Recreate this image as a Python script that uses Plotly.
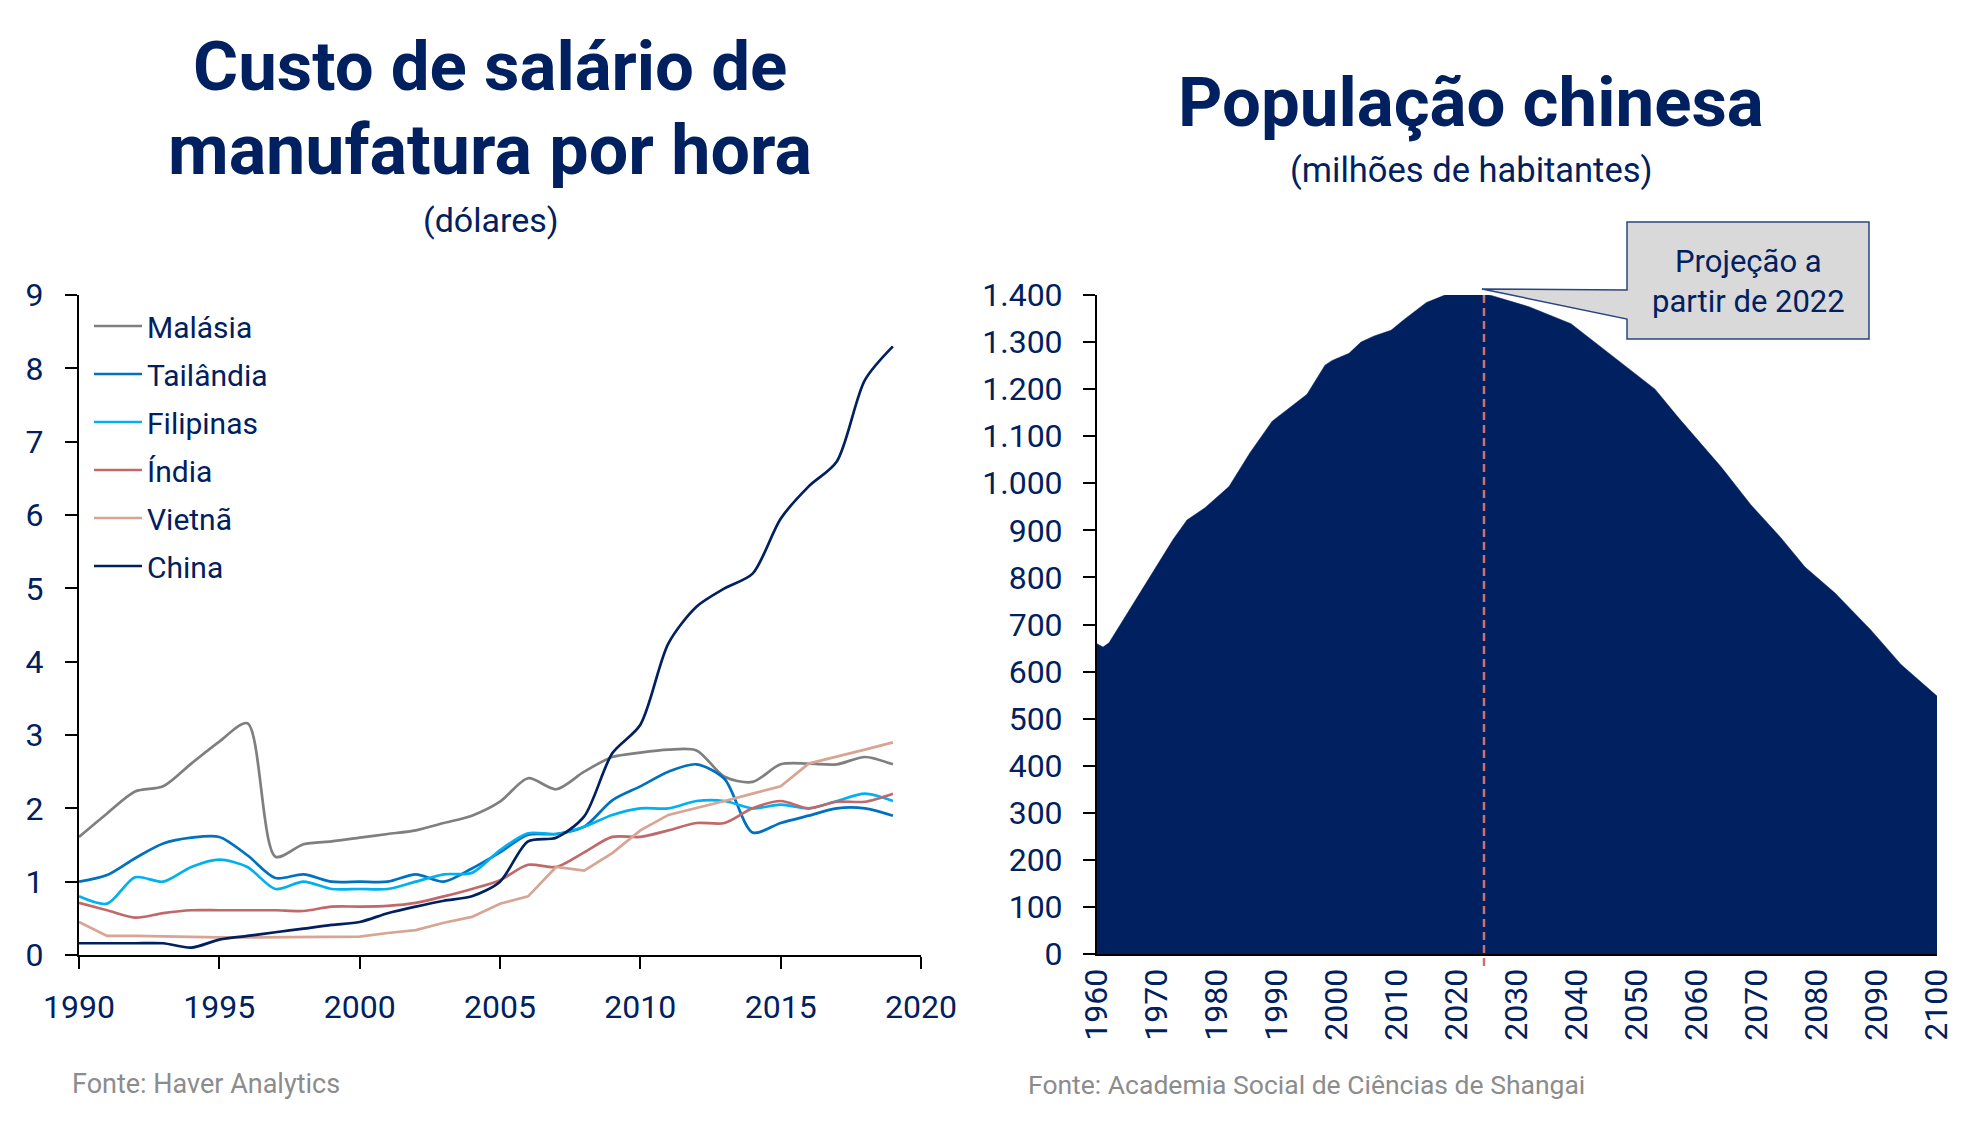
import plotly.graph_objects as go

# ---------------- data ----------------
wage_years = list(range(1990, 2020))
malasia = [1.61, 1.93, 2.23, 2.30, 2.61, 2.91, 3.16, 1.34, 1.51, 1.55,
           1.60, 1.65, 1.70, 1.80, 1.90, 2.09, 2.41, 2.26, 2.50, 2.70,
           2.76, 2.80, 2.79, 2.43, 2.36, 2.60, 2.61, 2.60, 2.70, 2.60]
tailandia = [1.00, 1.09, 1.32, 1.52, 1.60, 1.61, 1.36, 1.05, 1.10, 1.00,
             1.00, 1.00, 1.10, 1.00, 1.18, 1.40, 1.64, 1.65, 1.75, 2.11,
             2.30, 2.50, 2.60, 2.40, 1.67, 1.80, 1.90, 2.00, 2.00, 1.90]
filipinas = [0.80, 0.70, 1.06, 1.00, 1.20, 1.30, 1.20, 0.90, 1.00, 0.90,
             0.90, 0.90, 1.00, 1.10, 1.12, 1.43, 1.66, 1.65, 1.75, 1.91,
             2.00, 2.00, 2.10, 2.10, 2.00, 2.05, 2.00, 2.10, 2.20, 2.10]
india = [0.71, 0.61, 0.51, 0.57, 0.61, 0.61, 0.61, 0.61, 0.60, 0.66,
         0.66, 0.67, 0.71, 0.80, 0.90, 1.02, 1.23, 1.20, 1.40, 1.61,
         1.61, 1.70, 1.80, 1.80, 2.00, 2.10, 2.00, 2.09, 2.09, 2.20]
vietna = [0.45, 0.26, 0.26, 0.25, 0.24, 0.24, 0.24, 0.24, 0.24, 0.24,
          0.25, 0.30, 0.34, 0.44, 0.52, 0.70, 0.80, 1.20, 1.15, 1.39,
          1.70, 1.91, 2.00, 2.10, 2.20, 2.30, 2.61, 2.70, 2.80, 2.90]
china = [0.16, 0.16, 0.16, 0.16, 0.10, 0.21, 0.26, 0.31, 0.36, 0.41,
         0.45, 0.57, 0.66, 0.74, 0.80, 1.00, 1.55, 1.60, 1.89, 2.75,
         3.14, 4.25, 4.75, 5.00, 5.20, 5.95, 6.39, 6.73, 7.84, 8.30]

wage_series = [
    ("Malásia", malasia, "#7f7f7f", "spline"),
    ("Tailândia", tailandia, "#0070c0", "spline"),
    ("Filipinas", filipinas, "#00b0f0", "spline"),
    ("Índia", india, "#c0686a", "spline"),
    ("Vietnã", vietna, "#d8a493", "linear"),
    ("China", china, "#002060", "spline"),
]
wage_xticks = [1990, 1995, 2000, 2005, 2010, 2015, 2020]
wage_yticks = list(range(0, 10))

pop_years = [1960, 1961, 1962, 1966, 1970, 1972.7, 1975, 1978, 1982, 1985.5,
             1989.2, 1992, 1995, 1998, 1999.2, 2002, 2004, 2006.2, 2009, 2011.2,
             2014.9, 2018, 2020, 2022, 2024, 2026, 2032, 2039, 2043, 2048,
             2053, 2057, 2064, 2069, 2074, 2078, 2083, 2089, 2094, 2100]
pop_values = [659, 652, 661, 743, 825, 881, 922, 948, 993, 1065,
              1132, 1160, 1189, 1251, 1261, 1276, 1300, 1313, 1325, 1348,
              1384, 1400, 1408, 1412, 1404, 1398, 1375, 1339, 1299, 1250,
              1200, 1138, 1035, 954, 884, 822, 767, 688, 615, 548]
pop_xticks = list(range(1960, 2101, 10))
pop_yticks = list(range(0, 1401, 100))
pop_yticktext = [f"{v:,}".replace(",", ".") for v in pop_yticks]
projection_year = 2024.5

# ---------------- layout helpers ----------------
W, H = 1972, 1125
OFF = 8  # page body margin
NAVY = "#002060"
FONT = "Roboto"


def px(x):
    return (x - OFF) / W


def py(y):
    return 1 - (y - OFF) / H


fig = go.Figure()

for i, (name, vals, color, shape) in enumerate(wage_series):
    fig.add_trace(go.Scatter(
        x=wage_years, y=vals, name=name, mode="lines",
        line=dict(color=color, width=2.7, shape=shape, smoothing=0.8),
        legendgroup=f"g{i}", xaxis="x", yaxis="y",
    ))

fig.add_trace(go.Scatter(
    x=pop_years, y=pop_values, mode="lines", fill="tozeroy",
    fillcolor=NAVY, line=dict(color=NAVY, width=0.5),
    showlegend=False, xaxis="x2", yaxis="y2",
))

axis_common = dict(
    showgrid=False, zeroline=False, showline=True, linecolor="black",
    linewidth=2, tickcolor="black", tickwidth=2, automargin=False,
    tickfont=dict(family=FONT, size=32, color=NAVY),
)

fig.update_layout(
    template="none",
    width=W, height=H,
    margin=dict(l=0, r=0, t=0, b=0, pad=0, autoexpand=False),
    paper_bgcolor="white", plot_bgcolor="white",
    font=dict(family=FONT, color=NAVY),
    xaxis=dict(domain=[px(79), px(921)], range=[1990, 2020],
               tickvals=wage_xticks, ticks="outside", ticklen=12,
               ticklabelstandoff=11, anchor="y", **axis_common),
    yaxis=dict(domain=[py(955), py(295)], range=[0, 9],
               tickvals=wage_yticks, ticks="outside", ticklen=12,
               ticklabelstandoff=15, anchor="x", **axis_common),
    xaxis2=dict(domain=[px(1097), px(1937)], range=[1960, 2100],
                tickvals=pop_xticks, ticks="", tickangle=-90,
                ticklabelstandoff=0, anchor="y2", **axis_common),
    yaxis2=dict(domain=[py(954), py(295)], range=[0, 1400],
                tickvals=pop_yticks, ticktext=pop_yticktext,
                ticks="outside", ticklen=12, ticklabelstandoff=14,
                anchor="x2", **axis_common),
    legend=dict(x=px(89), y=py(300), xanchor="left", yanchor="top",
                font=dict(family=FONT, size=30, color=NAVY),
                bgcolor="rgba(0,0,0,0)", itemwidth=48,
                tracegroupgap=6),
    showlegend=True,
)

# dashed projection line
fig.add_shape(type="line", xref="x2", yref="paper",
              x0=projection_year, x1=projection_year,
              y0=py(966), y1=py(289),
              line=dict(color="#cc7070", width=2.5, dash="8px,5px"),
              layer="above")

# callout box
bx0, by0, bx1, by1 = 1627, 222, 1869, 339
tipx, tipy = 1482, 289
path = (f"M {px(bx0)},{py(by0)} L {px(bx1)},{py(by0)} L {px(bx1)},{py(by1)} "
        f"L {px(bx0)},{py(by1)} L {px(bx0)},{py(319)} L {px(tipx)},{py(tipy)} "
        f"L {px(bx0)},{py(290)} Z")
fig.add_shape(type="path", xref="paper", yref="paper", path=path,
              fillcolor="#d9d9d9", line=dict(color="#2a4480", width=1.5),
              layer="above")

annotations = [
    dict(text="<b>Custo de salário de</b>", x=px(490), y=py(66),
         font=dict(size=69, family=FONT, color=NAVY)),
    dict(text="<b>manufatura por hora</b>", x=px(490), y=py(150),
         font=dict(size=70, family=FONT, color=NAVY)),
    dict(text="(dólares)", x=px(491), y=py(220),
         font=dict(size=34, family=FONT, color=NAVY)),
    dict(text="<b>População chinesa</b>", x=px(1471), y=py(103),
         font=dict(size=69, family=FONT, color=NAVY)),
    dict(text="(milhões de habitantes)", x=px(1471), y=py(170),
         font=dict(size=34.5, family=FONT, color=NAVY)),
    dict(text="Projeção a<br>partir de 2022", x=px(1748), y=py(281),
         font=dict(size=31, family=FONT, color=NAVY)),
    dict(text="Fonte: Haver Analytics", x=px(70), y=py(1084), xanchor="left",
         font=dict(size=27, family=FONT, color="#8c8c8c")),
    dict(text="Fonte: Academia Social de Ciências de Shangai", x=px(1026),
         y=py(1084), xanchor="left",
         font=dict(size=26.5, family=FONT, color="#8c8c8c")),
]
for a in annotations:
    a.setdefault("xanchor", "center")
    fig.add_annotation(xref="paper", yref="paper", showarrow=False,
                       yanchor="middle", **a)

fig.write_html("out.html")
